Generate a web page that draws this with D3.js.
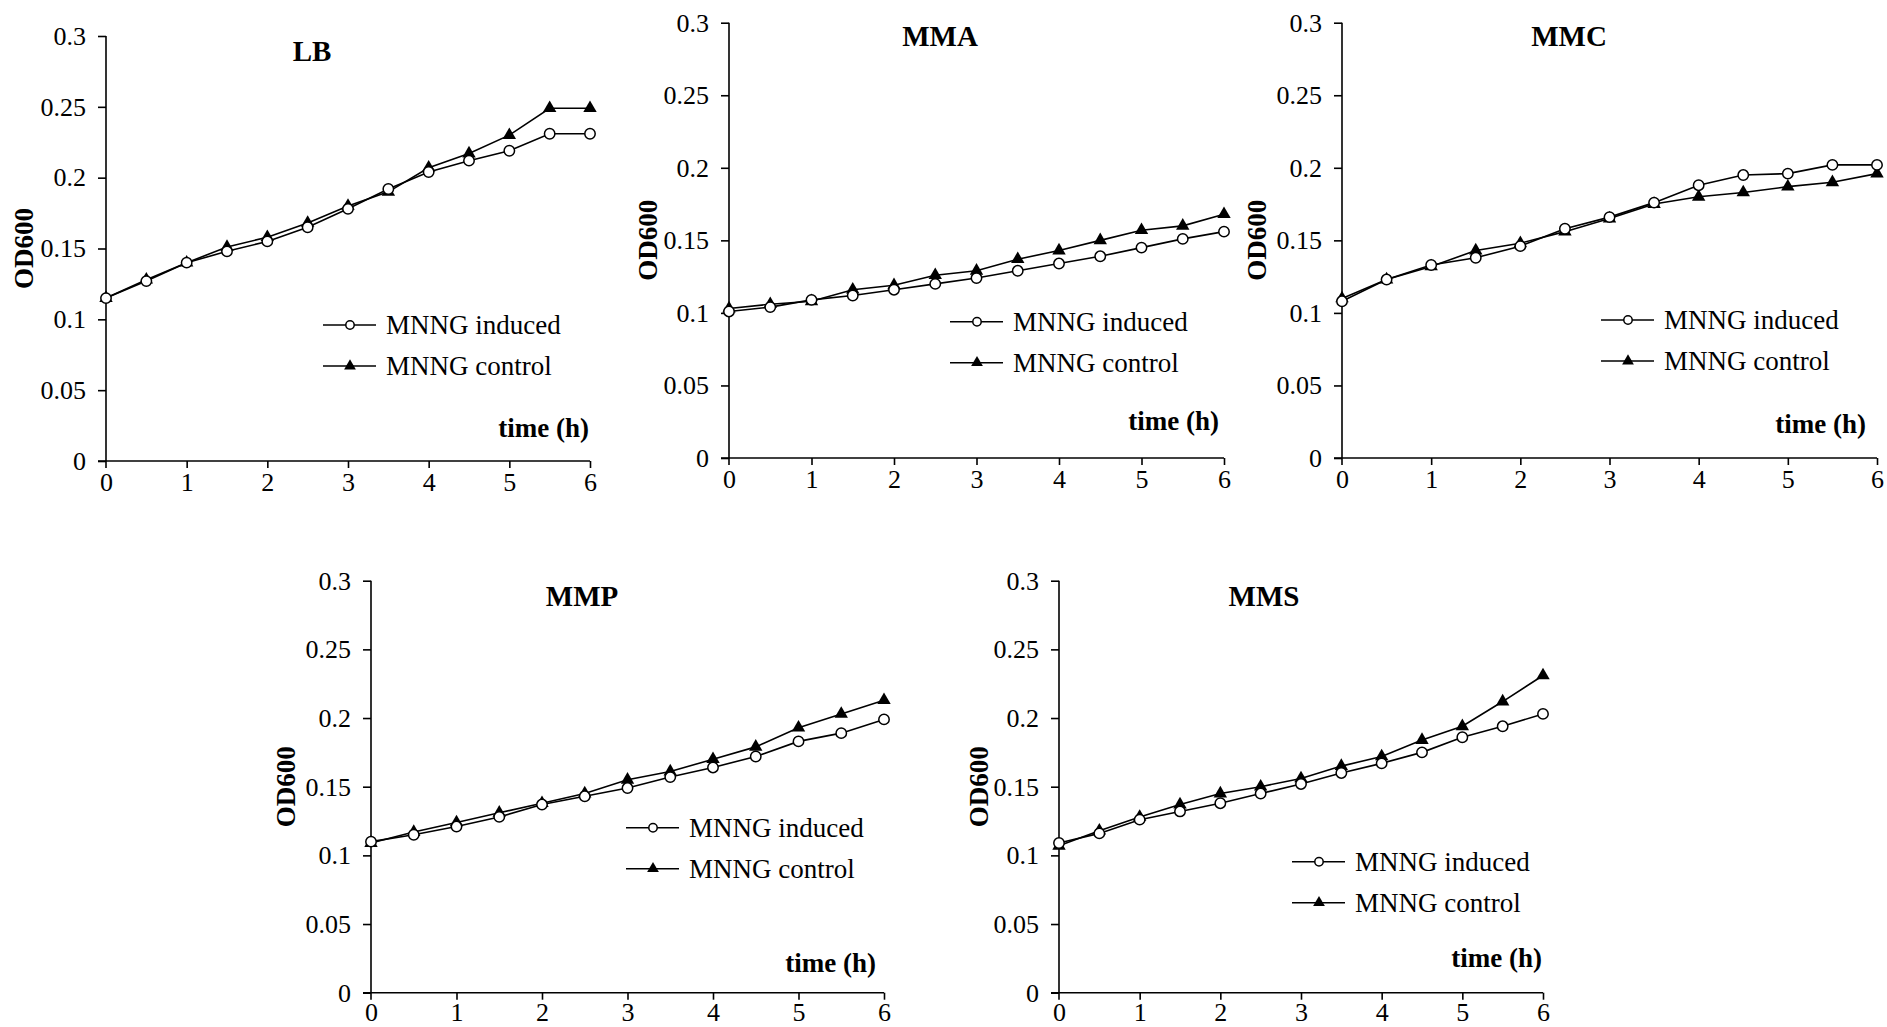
<!DOCTYPE html>
<html>
<head>
<meta charset="utf-8">
<script src="https://cdn.jsdelivr.net/npm/d3@7"></script>
<style>
  body { margin: 0; background: #fff; }
  svg text { font-family: "Liberation Serif", "Times New Roman", serif; fill: #000; }
</style>
</head>
<body>
<div id="board"></div>
<script>
// time points (h)
var hours = [0, 0.5, 1, 1.5, 2, 2.5, 3, 3.5, 4, 4.5, 5, 5.5, 6];
var xTicks = [0, 1, 2, 3, 4, 5, 6];
var yTicks = [0, 0.05, 0.1, 0.15, 0.2, 0.25, 0.3];
var panelNames = ["LB", "MMA", "MMC", "MMP", "MMS"];
var seriesNames = ["MNNG induced", "MNNG control"];

// OD600
var lbInduced  = [0.115, 0.127, 0.140, 0.148, 0.155, 0.165, 0.178, 0.192, 0.204, 0.212, 0.219, 0.231, 0.231];
var lbControl  = [0.115, 0.128, 0.140, 0.151, 0.158, 0.168, 0.180, 0.190, 0.207, 0.217, 0.230, 0.249, 0.249];
var mmaInduced = [0.101, 0.104, 0.109, 0.112, 0.116, 0.120, 0.124, 0.129, 0.134, 0.139, 0.145, 0.151, 0.156];
var mmaControl = [0.103, 0.106, 0.108, 0.116, 0.119, 0.126, 0.129, 0.137, 0.143, 0.150, 0.157, 0.160, 0.168];
var mmcInduced = [0.108, 0.123, 0.133, 0.138, 0.146, 0.158, 0.166, 0.176, 0.188, 0.195, 0.196, 0.202, 0.202];
var mmcControl = [0.110, 0.123, 0.132, 0.143, 0.148, 0.156, 0.165, 0.175, 0.180, 0.183, 0.187, 0.190, 0.196];
var mmpInduced = [0.110, 0.115, 0.121, 0.128, 0.137, 0.143, 0.149, 0.157, 0.164, 0.172, 0.183, 0.189, 0.199];
var mmpControl = [0.109, 0.117, 0.124, 0.131, 0.138, 0.145, 0.155, 0.161, 0.170, 0.179, 0.193, 0.203, 0.213];
var mmsInduced = [0.109, 0.116, 0.126, 0.132, 0.138, 0.145, 0.152, 0.160, 0.167, 0.175, 0.186, 0.194, 0.203];
var mmsControl = [0.107, 0.118, 0.128, 0.137, 0.145, 0.150, 0.156, 0.165, 0.172, 0.184, 0.194, 0.212, 0.231];

var panelSeries = [
    [lbInduced, lbControl],
    [mmaInduced, mmaControl],
    [mmcInduced, mmcControl],
    [mmpInduced, mmpControl],
    [mmsInduced, mmsControl]
];

// where each panel sits on the page
var layout = [
    {left: 106,  right: 590,  top: 36,    bottom: 461,   title: [312, 61],   legend: [323, 325],   xlab: [589, 437],  ylabX: 24,   tickPad: 5},
    {left: 729,  right: 1224, top: 22.7,  bottom: 458,   title: [940, 46],   legend: [950, 321.7], xlab: [1219, 430], ylabX: 648,  tickPad: 5},
    {left: 1342, right: 1877, top: 22.7,  bottom: 458,   title: [1569, 46],  legend: [1601, 320],  xlab: [1866, 433], ylabX: 1257, tickPad: 5},
    {left: 371,  right: 884,  top: 580.7, bottom: 992.7, title: [582, 606],  legend: [626, 827.7], xlab: [876, 972],  ylabX: 286,  tickPad: 3},
    {left: 1059, right: 1543, top: 580.7, bottom: 992.7, title: [1264, 606], legend: [1292, 861.7], xlab: [1542, 967], ylabX: 979,  tickPad: 3}
];

var svgW = 1887, svgH = 1027;
var svg = d3.select("#board").append("svg")
    .attr("width", svgW)
    .attr("height", svgH);

function drawMarker(g, kind, x, y, small){
    if(kind == 0){
        g.append("circle")
            .attr("cx", x).attr("cy", y)
            .attr("r", small ? 4.2 : 5.2)
            .attr("fill", "#fff")
            .attr("stroke", "#000")
            .attr("stroke-width", 1.5);
    } else {
        g.append("path")
            .attr("d", d3.symbol().type(d3.symbolTriangle).size(small ? 60 : 78)())
            .attr("transform", "translate(" + x + "," + y + ")")
            .attr("fill", "#000");
    }
}

function drawPanel(i){
    var L = layout[i];
    var g = svg.append("g");

    var x = d3.scaleLinear().domain([0, 6]).range([L.left, L.right]);
    var y = d3.scaleLinear().domain([0, 0.3]).range([L.bottom, L.top]);

    //axes
    var yAxis = g.append("g")
        .attr("transform", "translate(" + L.left + ",0)")
        .call(d3.axisLeft(y).tickValues(yTicks).tickSize(8).tickPadding(12)
            .tickFormat(function(d){ return String(+d.toFixed(2)); }));
    var xAxis = g.append("g")
        .attr("transform", "translate(0," + L.bottom + ")")
        .call(d3.axisBottom(x).tickValues(xTicks).tickSize(7).tickPadding(L.tickPad)
            .tickFormat(d3.format("d")));
    [xAxis, yAxis].forEach(function(a){
        a.select(".domain").attr("stroke", "#000").attr("stroke-width", 1.6)
            .attr("d", a === xAxis
                ? "M" + (L.left - 8) + ",0H" + L.right
                : "M0," + y.range()[1] + "V" + (y.range()[0] + 7));
        a.selectAll(".tick line").attr("stroke", "#000").attr("stroke-width", 1.6);
        a.selectAll(".tick text").attr("font-size", 26)
            .style("font-family", "'Liberation Serif', 'Times New Roman', serif");
    });
    xAxis.selectAll(".tick").filter(function(d){ return d == 0; }).select("line").remove();

    //series lines and markers
    var line = d3.line()
        .x(function(d, j){ return x(hours[j]); })
        .y(function(d){ return y(d); });
    panelSeries[i].forEach(function(vals, k){
        g.append("path")
            .datum(vals)
            .attr("d", line)
            .attr("fill", "none")
            .attr("stroke", "#000")
            .attr("stroke-width", 1.6);
    });
    // draw control markers first, induced circles on top
    [1, 0].forEach(function(k){
        panelSeries[i][k].forEach(function(v, j){
            drawMarker(g, k, x(hours[j]), y(v), false);
        });
    });

    //title
    g.append("text")
        .attr("x", L.title[0]).attr("y", L.title[1])
        .attr("text-anchor", "middle")
        .attr("font-size", 29).attr("font-weight", "bold")
        .text(panelNames[i]);

    //axis labels
    g.append("text")
        .attr("x", L.xlab[0]).attr("y", L.xlab[1])
        .attr("text-anchor", "end")
        .attr("font-size", 27).attr("font-weight", "bold")
        .text("time (h)");
    var midY = (L.top + L.bottom) / 2;
    g.append("text")
        .attr("transform", "translate(" + L.ylabX + "," + midY + ") rotate(-90)")
        .attr("text-anchor", "middle")
        .attr("dy", "0.35em")
        .attr("font-size", 27).attr("font-weight", "bold")
        .text("OD600");

    //legend
    seriesNames.forEach(function(name, k){
        var lx = L.legend[0], ly = L.legend[1] + k * 41;
        g.append("line")
            .attr("x1", lx).attr("x2", lx + 53)
            .attr("y1", ly).attr("y2", ly)
            .attr("stroke", "#000").attr("stroke-width", 1.6);
        drawMarker(g, k, lx + 27, ly, true);
        g.append("text")
            .attr("x", lx + 63).attr("y", ly)
            .attr("dy", "0.33em")
            .attr("font-size", 27)
            .text(name);
    });
}

for(var i = 0; i < panelNames.length; i++){
    drawPanel(i);
}
</script>
</body>
</html>
